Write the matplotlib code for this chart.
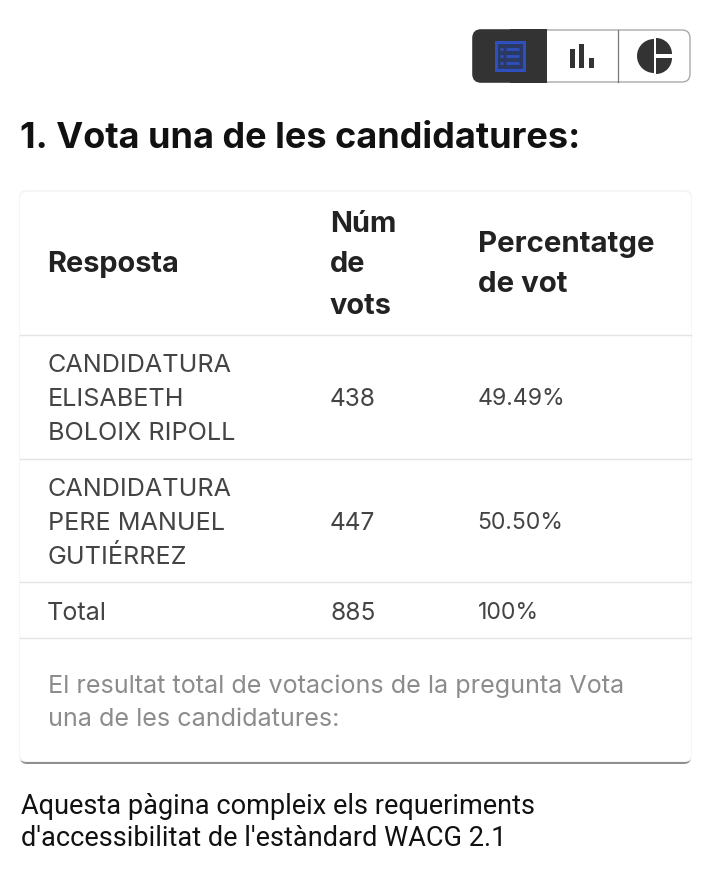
import matplotlib
matplotlib.use('Agg')
import matplotlib.pyplot as plt
from matplotlib.patches import FancyBboxPatch, Rectangle, Wedge

# table contents
question = '1. Vota una de les candidatures:'
col_resposta = 'Resposta'
col_vots = ['Núm', 'de', 'vots']
col_pct = ['Percentatge', 'de vot']
answers = [['CANDIDATURA', 'ELISABETH', 'BOLOIX RIPOLL'],
           ['CANDIDATURA', 'PERE MANUEL', 'GUTIÉRREZ']]
votes = ['438', '447']
percents = ['49.49%', '50.50%']
total_label = 'Total'
total_votes = '885'
total_pct = '100%'
note = ['El resultat total de votacions de la pregunta Vota', 'una de les candidatures:']
footer = ['Aquesta pàgina compleix els requeriments', "d'accessibilitat de l'estàndard WACG 2.1"]

DARK = '#222222'
BODY = '#444444'
LINE = '#e4e4e4'
ICON = '#333333'

fig = plt.figure(figsize=(7.08, 8.74), dpi=100)
ax = fig.add_axes([0, 0, 1, 1])
ax.set_xlim(0, 708)
ax.set_ylim(874, 0)
ax.axis('off')


def txt(x, y, s, size=18.1, color=BODY, weight='normal', family='Inter'):
    ax.text(x, y, s, fontsize=size, color=color, fontweight=weight, family=family, va='center', ha='left')


def box(x0, y0, x1, y1, r, **kw):
    p = FancyBboxPatch((x0 + r, y0 + r), x1 - x0 - 2 * r, y1 - y0 - 2 * r,
                       boxstyle='round,pad=%d,rounding_size=%d' % (r, r), **kw)
    ax.add_patch(p)


# view switcher
box(473, 30, 690, 82, 8, fc='white', ec='#aaaaaa', lw=1)
box(473, 30, 530, 82, 8, fc=ICON, ec=ICON, lw=1)
ax.add_patch(Rectangle((510, 29.4), 36.5, 53.2, fc=ICON, ec='none'))
ax.plot([617.5, 617.5], [30, 82], color='#777777', lw=0.9)

# list icon
ax.add_patch(Rectangle((495.5, 41.5), 28, 28, fc='#2b3a63', ec='#2f4fbf', lw=2.2))
for y in (49, 56, 63):
    ax.plot([500, 503], [y, y], color='#2f4fbf', lw=2, solid_capstyle='butt')
    ax.plot([506, 519], [y, y], color='#2f4fbf', lw=2, solid_capstyle='butt')

# bars icon
ax.add_patch(Rectangle((569.5, 49), 5, 19, fc=ICON, ec='none'))
ax.add_patch(Rectangle((579, 44), 5, 24, fc=ICON, ec='none'))
ax.add_patch(Rectangle((588.5, 58), 5, 10, fc=ICON, ec='none'))

# pie icon (y axis is inverted so angles run clockwise)
ax.add_patch(Wedge((654, 56), 17, 90, 270, fc=ICON, ec='none'))
ax.add_patch(Wedge((656, 54), 16, 270, 360, fc=ICON, ec='none'))
ax.add_patch(Wedge((656, 58), 16, 0, 90, fc=ICON, ec='none'))

# heading
txt(20, 138, question, size=26, color='#111111', weight='bold')

# card with soft shadow
box(20, 195, 691, 764, 7, fc='#8f8f8f', ec='none')
box(19, 190, 692, 762, 7, fc='#f5f5f5', ec='none')
box(20, 192, 691, 761, 7, fc='white', ec='none')

# header row
txt(47, 265, col_resposta, size=20.8, color=DARK, weight='bold')
for y, s in zip((224, 265, 306), col_vots):
    txt(330, y, s, size=20.8, color=DARK, weight='bold')
for y, s in zip((245, 285), col_pct):
    txt(478, y, s, size=21.2, color=DARK, weight='bold')

for y in (335, 459, 582, 638):
    ax.plot([20, 691], [y, y], color=LINE, lw=1)

# answer rows
for top, lines, v, p in zip((365, 489), answers, votes, percents):
    for i, s in enumerate(lines):
        txt(47.5, top + i * 34, s)
    txt(330, top + 34, v, size=17.6)
    txt(477.5, top + 34, p, size=16.6)

txt(47, 613, total_label)
txt(330, 613, total_votes, size=17.6)
txt(477.5, 613, total_pct, size=16.6)

for y, s in zip((686, 720), note):
    txt(47.5, y, s, size=18.1, color='#8c8c8c')

# footer, Roboto like the page
for y, s in zip((807, 839), footer):
    txt(21, y, s, size=19.5, color='#111111', family='Roboto')

fig.savefig('out.png', dpi=100)
